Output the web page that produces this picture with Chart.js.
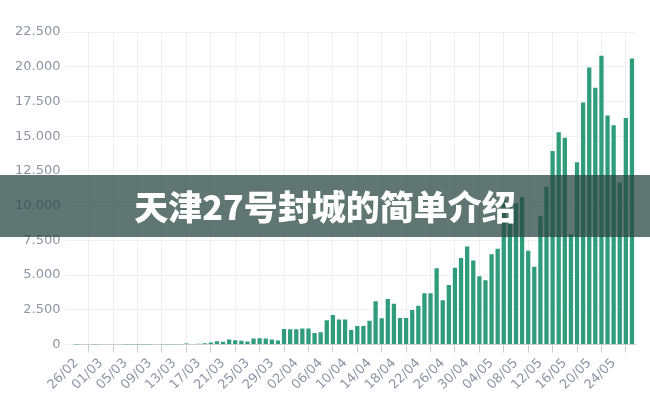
<!DOCTYPE html>
<html>
<head>
<meta charset="utf-8">
<script src="https://cdn.jsdelivr.net/npm/chart.js@4/dist/chart.umd.min.js"></script>
<style>
  body { margin: 0; background: #fff; }
  .wrap { position: relative; width: 650px; height: 412px; }
  .banner {
    position: absolute; left: 0; top: 175px; width: 650px; height: 62px;
    background: rgba(40, 70, 65, 0.74);
    color: #fff; text-align: center; line-height: 62px;
    font-family: "Noto Sans CJK SC", sans-serif; font-weight: 900; font-size: 34px;
  }
</style>
</head>
<body>
<div class="wrap">
  <canvas id="chart" width="650" height="412"></canvas>
  <div class="banner">天津27号封城的简单介绍</div>
</div>
<script>
const days = [
  '26/02','27/02','28/02','29/02',
  '01/03','02/03','03/03','04/03','05/03','06/03','07/03','08/03','09/03','10/03',
  '11/03','12/03','13/03','14/03','15/03','16/03','17/03','18/03','19/03','20/03',
  '21/03','22/03','23/03','24/03','25/03','26/03','27/03','28/03','29/03','30/03','31/03',
  '01/04','02/04','03/04','04/04','05/04','06/04','07/04','08/04','09/04','10/04',
  '11/04','12/04','13/04','14/04','15/04','16/04','17/04','18/04','19/04','20/04',
  '21/04','22/04','23/04','24/04','25/04','26/04','27/04','28/04','29/04','30/04',
  '01/05','02/05','03/05','04/05','05/05','06/05','07/05','08/05','09/05','10/05',
  '11/05','12/05','13/05','14/05','15/05','16/05','17/05','18/05','19/05','20/05',
  '21/05','22/05','23/05','24/05','25/05','26/05','27/05'
]

const newCases = [
  1, 0, 0, 1,
  0, 0, 0, 0, 1, 5, 5, 6, 5, 0,
  11, 5, 21, 13, 70, 35, 60, 80, 145, 240,
  190, 355, 310, 265, 215, 430, 450, 430, 355, 285, 1120,
  1100, 1095, 1145, 1145, 820, 880, 1740, 2120, 1790, 1790,
  1050, 1330, 1330, 1715, 3120, 1880, 3280, 2930, 1905, 1905,
  2480, 2785, 3690, 3690, 5480, 3180, 4290, 5520, 6220, 7060,
  6050, 4920, 4630, 6500, 6890, 10500, 9890, 10150, 10600, 6740,
  5600, 9240, 11360, 13930, 15290, 14890, 7930, 13120, 17420, 19950,
  18480, 20790, 16480, 15780, 11670, 16310, 20595
]

const yMax = 22500
const yStep = 2500
const labelEvery = 4

const gray = '#8c95a5'
const gridColor = '#eef0f4'

function dotted(v) {
  return String(v).replace(/\B(?=(\d{3})+(?!\d))/g, '.')
}

const ctx = document.getElementById('chart')
const chart = new Chart(ctx, {
  type: 'bar',
  data: {
    labels: days,
    datasets: [{
      data: newCases,
      backgroundColor: '#2f9d7b',
      borderWidth: 0,
      barPercentage: 0.9,
      categoryPercentage: 0.78
    }]
  },
  options: {
    responsive: false,
    animation: false,
    layout: { padding: { left: 10, right: 15, top: 32, bottom: 16 } },
    plugins: { legend: { display: false }, tooltip: { enabled: false } },
    scales: {
      x: {
        grid: { color: gridColor, tickColor: '#c8ccd4', offset: true },
        border: { color: '#c8ccd4' },
        ticks: {
          autoSkip: false,
          minRotation: 45,
          maxRotation: 45,
          color: gray,
          font: { family: 'DejaVu Sans', size: 13 },
          callback: function (val, i) {
            return i % labelEvery === 0 ? days[i] : null
          }
        }
      },
      y: {
        min: 0,
        max: yMax,
        grid: { color: gridColor },
        border: { display: false },
        ticks: {
          stepSize: yStep,
          padding: 5,
          color: gray,
          font: { family: 'DejaVu Sans', size: 13 },
          callback: v => dotted(v)
        }
      }
    }
  }
})
</script>
</body>
</html>
